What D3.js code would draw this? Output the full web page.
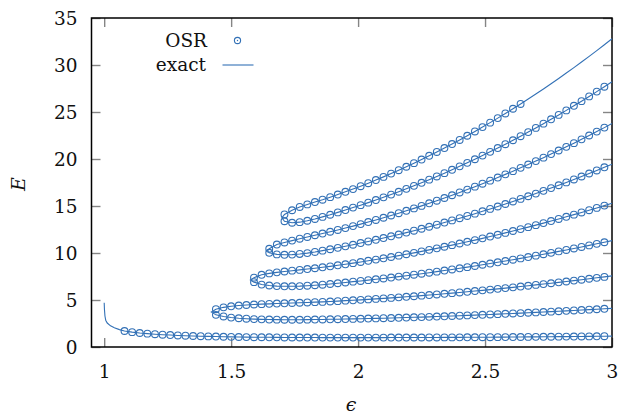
<!DOCTYPE html>
<html><head><meta charset="utf-8">
<script src="https://cdn.jsdelivr.net/npm/d3@7/dist/d3.min.js"></script>
<style>body{margin:0;background:#fff}</style></head>
<body><svg id="c" width="620" height="417"></svg>
<script>
// epsilon grid of the OSR points
const eps = [1.08,1.11,1.14,1.17,1.20,1.23,1.26,1.29,1.32,1.35,1.38,1.41,1.44,1.47,1.50,1.53,1.56,1.59,1.62,1.65,1.68,1.71,1.74,1.77,1.80,1.83,1.86,1.89,1.92,1.95,1.98,
  2.01,2.04,2.07,2.10,2.13,2.16,2.19,2.22,2.25,2.28,2.31,2.34,2.37,2.40,2.43,2.46,2.49,2.52,2.55,2.58,2.61,2.64,2.67,2.70,2.73,2.76,2.79,2.82,2.85,2.88,2.91,2.94,2.97];

// OSR energies per level (each starts at eps[levelStart[k]])
const E0 = [1.70,1.58,1.49,1.42,1.36,1.31,1.27,1.23,1.20,1.17,1.15,1.13,1.11,1.09,1.08,1.065,1.055,1.045,1.037,1.03,1.024,1.018,1.013,1.009,1.006,1.003,1.001,1.0,0.999,0.999,0.9995,
  1.000,1.001,1.001,1.002,1.004,1.005,1.007,1.009,1.011,1.014,1.017,1.020,1.023,1.027,1.031,1.035,1.040,1.044,1.049,1.055,1.060,1.066,1.072,1.078,1.085,1.092,1.099,1.106,1.114,1.122,1.130,1.138,1.147];
const E1 = [3.42,3.25,3.13,3.06,3.01,2.97,2.94,2.92,2.91,2.90,2.90,2.90,2.91,2.92,2.93,2.945,2.96,2.975,2.99,
  3.006,3.024,3.043,3.064,3.085,3.108,3.132,3.157,3.183,3.210,3.238,3.267,3.297,3.328,3.360,3.393,3.427,3.461,3.496,3.532,3.568,3.606,3.644,3.683,3.722,3.762,3.803,3.845,3.887,3.930,3.974,4.018,4.063];
const E2 = [4.02,4.22,4.33,4.41,4.47,4.52,4.56,4.59,4.62,4.65,4.68,4.71,4.74,4.77,4.80,4.84,4.88,4.93,4.97,
  5.016,5.065,5.116,5.169,5.223,5.280,5.339,5.399,5.462,5.526,5.593,5.661,5.730,5.802,5.875,5.950,6.026,6.104,6.184,6.265,6.348,6.432,6.517,6.605,6.694,6.784,6.876,6.970,7.065,7.161,7.259,7.359,7.460];
const E3 = [6.90,6.64,6.54,6.48,6.46,6.46,6.48,6.52,6.57,6.63,6.70,6.78,6.86,6.95,
  7.028,7.114,7.203,7.294,7.389,7.487,7.587,7.691,7.797,7.906,8.018,8.133,8.251,8.371,8.494,8.619,8.748,8.878,9.012,9.147,9.286,9.427,9.570,9.716,9.865,10.016,10.169,10.325,10.484,10.645,10.809,10.975,11.143];
const E4 = [7.38,7.68,7.83,7.94,8.03,8.12,8.20,8.29,8.38,8.48,8.58,8.69,8.80,8.92,
  9.042,9.169,9.300,9.436,9.575,9.718,9.866,10.017,10.173,10.333,10.496,10.664,10.835,11.010,11.189,11.371,11.558,11.748,11.941,12.138,12.339,12.544,12.752,12.964,13.180,13.400,13.623,13.850,14.081,14.316,14.554,14.797,15.042];
const E5 = [10.02,9.85,9.81,9.83,9.90,9.99,10.11,10.25,10.40,10.55,10.71,10.88,
  11.056,11.229,11.406,11.589,11.777,11.970,12.168,12.371,12.580,12.794,13.013,13.238,13.467,13.702,13.941,14.186,14.436,14.690,14.949,15.214,15.483,15.757,16.037,16.321,16.611,16.906,17.206,17.511,17.822,18.137,18.458,18.784,19.116];
const E6 = [10.45,10.90,11.12,11.32,11.52,11.71,11.89,12.07,12.26,12.45,12.65,12.86,
  13.072,13.291,13.518,13.750,13.990,14.236,14.488,14.747,15.013,15.285,15.565,15.850,16.142,16.440,16.745,17.057,17.375,17.698,18.028,18.365,18.708,19.057,19.413,19.775,20.144,20.520,20.903,21.292,21.688,22.091,22.500,22.916,23.338];
const E7 = [13.38,13.22,13.28,13.43,13.62,13.84,14.07,14.32,14.57,14.83,
  15.088,15.358,15.635,15.921,16.215,16.516,16.826,17.143,17.469,17.803,18.145,18.494,18.852,19.218,19.591,19.973,20.362,20.759,21.163,21.576,21.996,22.425,22.862,23.306,23.759,24.221,24.691,25.170,25.657,26.153,26.657,27.169,27.689];
const E8 = [14.10,14.55,14.90,15.17,15.42,15.67,15.94,16.22,16.51,16.80,
  17.105,17.427,17.758,18.098,18.449,18.808,19.177,19.556,19.944,20.342,20.749,21.167,21.593,22.029,22.475,22.930,23.394,23.868,24.351,24.844,25.347,25.859];
const levelStart = [0, 12, 12, 17, 17, 19, 19, 21, 21];

// exact curve: extra points not covered by OSR
const E8exactTail = [26.381,26.913,27.455,28.007,28.570,29.142,29.725,30.317,30.920,31.533,32.156]; // eps[53..63]
const exactAt3 = [1.156, 4.109, 7.562, 11.314, 15.292, 19.452, 23.767, 28.218, 32.789];
const critEps = [1.422, 1.576, 1.643, 1.700];
const critE = [3.72, 7.14, 10.23, 13.74];
const groundHeadEps = [1.0, 1.001, 1.003, 1.006, 1.012, 1.025, 1.04, 1.06];
const groundHeadE = [4.7, 4.0, 3.3, 2.85, 2.55, 2.25, 2.05, 1.85];

const xTicks = [1, 1.5, 2, 2.5, 3];
const yTicks = [0, 5, 10, 15, 20, 25, 30, 35];

const levels = [E0, E1, E2, E3, E4, E5, E6, E7, E8];
const col = "#3371b6";

const svg = d3.select("#c");
const L = 91.5, R = 612, T = 18, B = 347;
const x = d3.scaleLinear().domain([0.95, 3]).range([L, R]);
const y = d3.scaleLinear().domain([0, 35]).range([B, T]);

const fontT = "'DejaVu Serif', serif";
// ticks (inward, mirrored)
const tk = 9;
const gx = svg.append("g").attr("transform", `translate(0,${B})`)
  .call(d3.axisBottom(x).tickValues(xTicks).tickSizeInner(-tk).tickSizeOuter(0).tickFormat(d => String(d)));
const gx2 = svg.append("g").attr("transform", `translate(0,${T})`)
  .call(d3.axisTop(x).tickValues(xTicks).tickSizeInner(-tk).tickSizeOuter(0).tickFormat(""));
const gy = svg.append("g").attr("transform", `translate(${L},0)`)
  .call(d3.axisLeft(y).tickValues(yTicks).tickSizeInner(-tk).tickSizeOuter(0).tickFormat(d => String(d)));
const gy2 = svg.append("g").attr("transform", `translate(${R},0)`)
  .call(d3.axisRight(y).tickValues(yTicks).tickSizeInner(-tk).tickSizeOuter(0).tickFormat(""));
[gx, gx2, gy, gy2].forEach(g => {
  g.select(".domain").remove();
  g.selectAll(".tick line").attr("stroke", "#858585").attr("stroke-width", 1.4);
  g.selectAll("text").attr("font-family", fontT).attr("font-size", 18.5).attr("fill", "#111");
});
gx.selectAll(".tick text").attr("y", 31).attr("dy", 0);
gy.selectAll(".tick text").attr("x", -14).attr("dy", "0.36em");

// frame
svg.append("rect").attr("x", L).attr("y", T).attr("width", R - L).attr("height", B - T)
  .attr("fill", "none").attr("stroke", "#000").attr("stroke-width", 1.5);

// exact lines
const line = d3.line().x(d => x(d[0])).y(d => y(d[1]));
const pts = k => levels[k].map((v, i) => [eps[levelStart[k] + i], v]);
const lines = [];
lines.push(groundHeadEps.map((e, i) => [e, groundHeadE[i]]).concat(pts(0), [[3, exactAt3[0]]]));
for (let p = 0; p < 4; p++) {
  const lo = 2 * p + 1, hi = 2 * p + 2;
  let up = pts(hi);
  if (hi === 8) up = up.concat(E8exactTail.map((v, i) => [eps[53 + i], v]));
  lines.push([[3, exactAt3[lo]]].concat(pts(lo).reverse(), [[critEps[p], critE[p]]], up, [[3, exactAt3[hi]]]));
}
const plot = svg.append("g");
plot.selectAll("path.ex").data(lines).enter().append("path")
  .attr("d", line).attr("fill", "none").attr("stroke", col).attr("stroke-width", 1.1);

// OSR circles
const allPts = [];
levels.forEach((arr, k) => pts(k).forEach(p => allPts.push(p)));
plot.selectAll("circle.osr").data(allPts).enter().append("circle")
  .attr("cx", d => x(d[0])).attr("cy", d => y(d[1])).attr("r", 3.4)
  .attr("fill", "none").attr("stroke", col).attr("stroke-width", 1.1);

// legend
const lg = svg.append("g").attr("font-family", fontT).attr("font-size", 18.5).attr("fill", "#111");
lg.append("text").attr("x", 207).attr("y", 46.5).attr("text-anchor", "end").text("OSR");
lg.append("text").attr("x", 206).attr("y", 70.5).attr("text-anchor", "end").text("exact");
svg.append("circle").attr("cx", 237.5).attr("cy", 40.5).attr("r", 3.1).attr("fill", "none").attr("stroke", col).attr("stroke-width", 1.1);
svg.append("circle").attr("cx", 237.5).attr("cy", 40.5).attr("r", 0.7).attr("fill", col);
svg.append("line").attr("x1", 222.5).attr("x2", 253.5).attr("y1", 65).attr("y2", 65).attr("stroke", col).attr("stroke-width", 1.1);

// axis titles
svg.append("text").attr("transform", "translate(25,184) rotate(-90)").attr("text-anchor", "middle")
  .attr("font-family", fontT).attr("font-style", "italic").attr("font-size", 19).attr("fill", "#111").text("E");
svg.append("text").attr("x", 351).attr("y", 411).attr("text-anchor", "middle")
  .attr("font-family", fontT).attr("font-style", "italic").attr("font-size", 19).attr("fill", "#111").text("ϵ");
</script></body></html>
